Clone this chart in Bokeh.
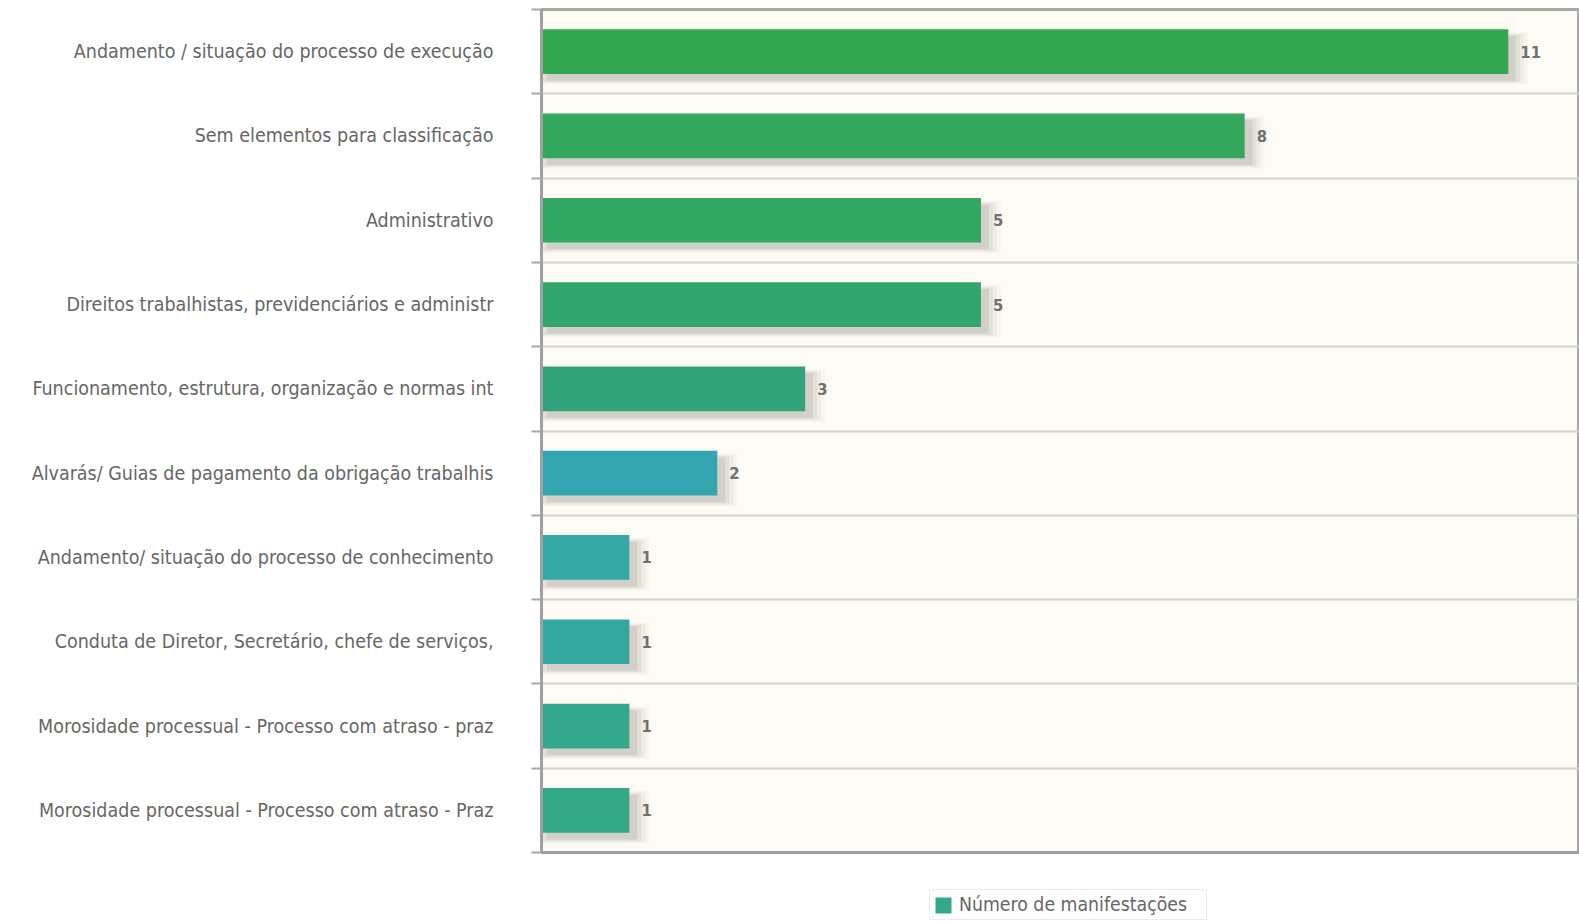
from bokeh.plotting import figure
from bokeh.layouts import column
from bokeh.models import ColumnDataSource, FixedTicker, Legend, LegendItem, Range1d, CustomJSTickFormatter, LinearAxis
from bokeh.core.properties import value
from bokeh.embed import file_html
from bokeh.resources import INLINE

categories = [
    "Andamento / situação do processo de execução",
    "Sem elementos para classificação",
    "Administrativo",
    "Direitos trabalhistas, previdenciários e administr",
    "Funcionamento, estrutura, organização e normas int",
    "Alvarás/ Guias de pagamento da obrigação trabalhis",
    "Andamento/ situação do processo de conhecimento",
    "Conduta de Diretor, Secretário, chefe de serviços,",
    "Morosidade processual - Processo com atraso - praz",
    "Morosidade processual - Processo com atraso - Praz",
]
counts = [11, 8, 5, 5, 3, 2, 1, 1, 1, 1]
bar_colors = ["#33a853", "#33a85c", "#33a864", "#33a56f", "#33a37c",
              "#33a6b0", "#33a8a5", "#33a8a0", "#33a88a", "#33a886"]
series_name = "Número de manifestações"
legend_color = "#33a886"

FONT = "DejaVu Sans Condensed"
n = len(categories)
centers = [n - i - 0.5 for i in range(n)]
bar_h = 0.53

src = ColumnDataSource(dict(
    y=centers,
    right=counts,
    color=bar_colors,
    label=[str(c) for c in counts],
))

W, H1, H2 = 1579, 863, 58
p = figure(width=W, height=H1, output_backend="svg", toolbar_location=None,
           x_range=Range1d(0, 11.81), y_range=Range1d(0, n),
           min_border_left=541, min_border_right=0, min_border_top=9,
           min_border_bottom=11)

p.background_fill_color = "#fdfbf3"
p.border_fill_color = "white"
p.outline_line_color = "#a8a8a8"
p.outline_line_width = 3

# soft drop shadow (several translucent layers, offset down/right)
for k, a in enumerate([0.13, 0.09, 0.06, 0.04]):
    d = 0.015 * k
    sh = ColumnDataSource(dict(y=[c - 0.08 for c in centers],
                               left=[0.06 - d * 3 for c in counts],
                               right=[c + 0.09 + d * 3 for c in counts]))
    p.hbar(y="y", left="left", right="right", height=bar_h + d * 2,
           source=sh, fill_color="#6e6e6e", fill_alpha=a, line_color=None)

r = p.hbar(y="y", left=0, right="right", height=bar_h, source=src,
           fill_color="color", line_color=None)

p.text(x="right", y="y", text="label", source=src, x_offset=12,
       text_font=value(FONT), text_font_size="16.5px", text_font_style="bold",
       text_color="#707070", text_align="left", text_baseline="middle")

# axes
p.xaxis.visible = False
p.xgrid.visible = False
p.ygrid.ticker = FixedTicker(ticks=list(range(1, n)))
p.ygrid.grid_line_color = "#d4d4d4"
p.ygrid.grid_line_width = 2

yax = p.yaxis[0]
yax.ticker = FixedTicker(ticks=centers, minor_ticks=list(range(0, n + 1)))
labels_js = {str(c): lab for c, lab in zip(centers, categories)}
yax.formatter = CustomJSTickFormatter(args=dict(m=labels_js),
                                      code="return m[String(tick)] || '';")
yax.major_tick_line_color = None
yax.minor_tick_out = 10
yax.minor_tick_in = 0
yax.minor_tick_line_color = "#a8a8a8"
yax.minor_tick_line_width = 2
yax.axis_line_color = "#a0a0a0"
yax.axis_line_width = 3
yax.major_label_standoff = 38
yax.major_label_text_font = FONT
yax.major_label_text_font_size = "19.5px"
yax.major_label_text_color = "#666666"

# bottom axis line
bax = LinearAxis(ticker=FixedTicker(ticks=[]), axis_line_color="#a0a0a0", axis_line_width=3,
                 major_label_text_font_size="0px", major_label_standoff=0)
p.add_layout(bax, "below")

# legend strip below the chart
q = figure(width=W, height=H2, output_backend="svg", toolbar_location=None,
           x_range=Range1d(0, 1), y_range=Range1d(0, 1),
           min_border_left=0, min_border_right=0, min_border_top=0, min_border_bottom=0)
q.axis.visible = False
q.grid.visible = False
q.outline_line_color = None
q.background_fill_color = "white"
dummy = q.quad(left=[2], right=[3], bottom=[2], top=[3], fill_color=legend_color, line_color=None)
leg = Legend(items=[LegendItem(label=series_name, renderers=[dummy])],
             location=(388, 1), orientation="horizontal",
             label_text_font=FONT, label_text_font_size="19.3px",
             label_text_color="#666666", border_line_color="#d8d8d8",
             border_line_width=1, glyph_width=20, glyph_height=20,
             label_standoff=6, padding=3, margin=0, spacing=0,
             label_height=20, label_width=244,
             background_fill_color="white")
q.add_layout(leg, "center")

layout = column(p, q, spacing=0)
open("out.html", "w").write(file_html(layout, INLINE))
